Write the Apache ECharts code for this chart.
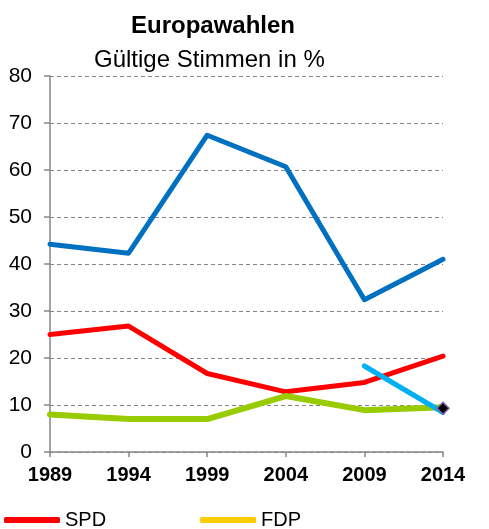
<!DOCTYPE html>
<html>
<head>
<meta charset="utf-8">
<script src="https://cdn.jsdelivr.net/npm/echarts@6/dist/echarts.min.js"></script>
<style>
html,body{margin:0;padding:0;background:#fff;}
#chart{width:489px;height:529px;}
</style>
</head>
<body>
<div id="chart"></div>
<script>
var years = ['1989', '1994', '1999', '2004', '2009', '2014'];
var cduCsu = [44.2, 42.3, 67.4, 60.7, 32.4, 41.0];
var spd = [25.0, 26.8, 16.7, 12.8, 14.8, 20.4];
var gruene = [8.0, 7.0, 7.0, 11.9, 8.9, 9.5];
var afd = [null, null, null, null, 18.3, 8.4];
var fdp = [null, null, null, null, null, null];
var marker = [null, null, null, null, null, 9.3];
var yTicks = [0, 10, 20, 30, 40, 50, 60, 70, 80];

var FONT = "'Liberation Sans', Arial, sans-serif";
var chart = echarts.init(document.getElementById('chart'), null, {renderer: 'canvas'});

function lineSeries(name, data, color, width) {
  return {
    name: name, type: 'line', data: data, showSymbol: false, symbol: 'none',
    connectNulls: false, animation: false,
    lineStyle: {color: color, width: width, cap: 'round', join: 'round'},
    itemStyle: {color: color}
  };
}

chart.setOption({
  animation: false,
  title: [
    {text: 'Europawahlen', left: 131, top: 14, padding: 0,
     textStyle: {fontFamily: FONT, fontSize: 24, fontWeight: 'bold', color: '#000'}},
    {text: 'Gültige Stimmen in %', left: 94, top: 48, padding: 0,
     textStyle: {fontFamily: FONT, fontSize: 24, fontWeight: 'normal', color: '#000'}}
  ],
  legend: {
    left: 4, top: 510, padding: 0, itemGap: 94, itemWidth: 56, itemHeight: 6, icon: 'roundRect',
    data: ['SPD', 'FDP'],
    textStyle: {fontFamily: FONT, fontSize: 20, color: '#000'}
  },
  grid: {left: 50, right: 46, top: 76, bottom: 77, containLabel: false},
  xAxis: {
    type: 'category', data: years, boundaryGap: false,
    axisLine: {show: true, lineStyle: {color: '#868686', width: 1.5}},
    axisTick: {show: true, alignWithLabel: true, length: 5, lineStyle: {color: '#868686', width: 1.5}},
    axisLabel: {fontFamily: FONT, fontSize: 20, fontWeight: 'bold', color: '#000', margin: 13},
    splitLine: {show: false}
  },
  yAxis: {
    type: 'value', min: yTicks[0], max: yTicks[yTicks.length - 1], interval: 10,
    axisLine: {show: true, lineStyle: {color: '#868686', width: 1.5}},
    axisTick: {show: true, length: 6, lineStyle: {color: '#868686', width: 1.5}},
    axisLabel: {fontFamily: FONT, fontSize: 21, color: '#000', margin: 18},
    splitLine: {show: true, lineStyle: {color: '#868686', width: 1, type: [4, 3]}}
  },
  series: [
    lineSeries('CDU/CSU', cduCsu, '#0070C0', 5),
    lineSeries('SPD', spd, '#FF0000', 5),
    lineSeries('GRÜNE', gruene, '#99CC00', 6),
    lineSeries('FDP', fdp, '#FFCC00', 5),
    lineSeries('AfD', afd, '#00B0F0', 5),
    {
      name: 'Sonstige', type: 'line', data: marker, symbol: 'diamond', symbolSize: 12,
      showSymbol: true, lineStyle: {width: 0},
      itemStyle: {color: '#000', borderColor: '#8064A2', borderWidth: 1.5},
      z: 5
    }
  ]
});
</script>
</body>
</html>
